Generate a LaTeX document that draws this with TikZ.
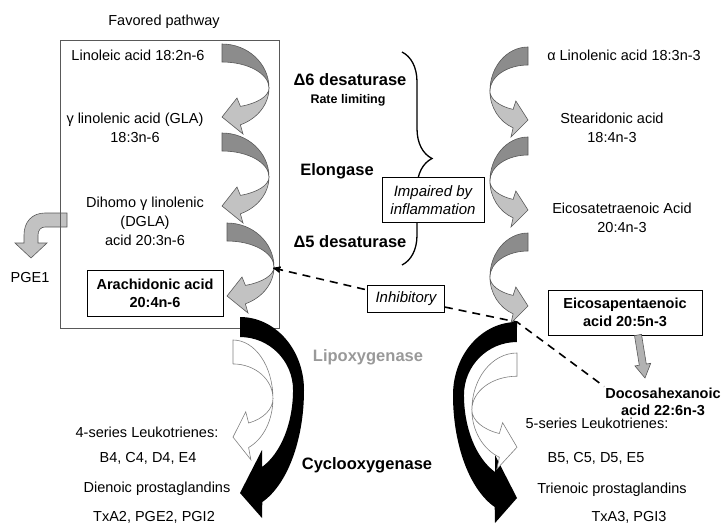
\documentclass[tikz,border=0pt]{standalone}
\usepackage{fontspec}
\setmainfont{Liberation Sans}
\usetikzlibrary{decorations.pathreplacing,shapes,arrows,positioning}

\definecolor{ribdark}{gray}{0.55}
\definecolor{riblight}{gray}{0.76}
\definecolor{ribline}{gray}{0.35}

\tikzset{
  % twisted curved arrow, flat end at the origin, head back under it
  pics/twist/.style n args={2}{code={
    \filldraw[fill=#1] (0,0) arc[start angle=-90,end angle=0,x radius=47,y radius=44]
      arc[start angle=0,end angle=-90,x radius=47,y radius=26] -- cycle;
    \filldraw[fill=#2] (47,44) arc[start angle=0,end angle=67,x radius=47,y radius=40]
      -- (21,90) -- (0,73) -- (15,54) -- (18.4,62.4)
      arc[start angle=67,end angle=0,x radius=47,y radius=20] -- cycle;
  }},
  % big black bend
  pics/bigbend/.style={code={
    \fill (0,0) arc[start angle=-90,end angle=0,x radius=64,y radius=73]
      arc[start angle=0,end angle=69.6,x radius=64,y radius=119.5]
      -- (22,201) -- (0,176) -- (22,133) -- (22,150)
      arc[start angle=65.5,end angle=0,x radius=53,y radius=84.6]
      arc[start angle=0,end angle=-90,x radius=53,y radius=53] -- cycle;
  }}
}

\begin{document}
\begin{tikzpicture}[x=1pt, y=-1pt, >=stealth',
  txt/.style={font=\fontsize{14.5}{19}\selectfont, align=center, inner sep=1pt},
  enz/.style={font=\fontsize{16.5}{19}\selectfont\bfseries, inner sep=1pt},
  acidbox/.style={draw, line width=0.8pt, fill=white, align=center,
    font=\fontsize{14.5}{18}\selectfont\bfseries},
  notebox/.style={draw, line width=0.8pt, fill=white, align=center,
    font=\fontsize{15}{18}\selectfont\itshape},
  ribbon/.style={draw=ribline, line width=0.6pt},
  inhib/.style={dash pattern=on 8pt off 6pt, line width=1.6pt}]

\useasboundingbox (0,0) rectangle (723,523);

% side arrow to PGE1
\filldraw[ribbon, fill=riblight] (67,213) -- (45,213) .. controls (32,213) and (24,222) .. (24,235)
  -- (24,243) -- (15,243) -- (31,258) -- (47,243) -- (38,243) -- (38,235)
  .. controls (38,230) and (41,227) .. (45,227) -- (67,227) -- cycle;

\node[draw=gray!70!black, line width=0.9pt, minimum width=219, minimum height=288] (favbox) at (169.5,184) {};
\node[txt] (fav) at (164,22) {Favored pathway};

% omega-6 steps
\pic[ribbon] at (222,44) {twist={ribdark}{riblight}};
\pic[ribbon] at (222,133) {twist={ribdark}{riblight}};
\pic[ribbon] at (227,223) {twist={ribdark}{riblight}};
% omega-3 steps
\pic[ribbon, xscale=-0.81] at (528,47) {twist={ribdark}{riblight}};
\pic[ribbon, xscale=-0.81] at (528,137) {twist={ribdark}{riblight}};
\pic[ribbon, xscale=-0.81] at (528,233) {twist={ribdark}{riblight}};

% cyclooxygenase / lipoxygenase
\pic at (240,317) {bigbend};
\pic[xscale=-1] at (517,322) {bigbend};
\pic[draw=gray, line width=0.6pt, xscale=0.85, yscale=1.33] at (233,340) {twist={white}{white}};
\pic[draw=gray, line width=0.6pt, xscale=-0.96, yscale=1.29] at (517,353) {twist={white}{white}};

% left column
\node[txt] (la) at (138,55) {Linoleic acid 18:2n-6};
\node[txt] (gla) at (135,127.5) {γ linolenic acid (GLA)\\18:3n-6};
\node[txt] (dgla) at (145,221.5) {Dihomo γ linolenic\\(DGLA)\\acid 20:3n-6};
\node[acidbox, minimum width=136, minimum height=46] (aa) at (155,293) {Arachidonic acid\\20:4n-6};
\node[txt] (pge) at (30,278) {PGE1};

% right column
\node[txt] (ala) at (624,55) {α Linolenic acid 18:3n-3};
\node[txt] (sda) at (612,127.5) {Stearidonic acid\\18:4n-3};
\node[txt] (eta) at (622,218) {Eicosatetraenoic Acid\\20:4n-3};
\node[acidbox, minimum width=154, minimum height=45] (epa) at (625,312.5) {Eicosapentaenoic\\acid 20:5n-3};
\node[txt, font=\fontsize{14.5}{17}\selectfont\bfseries] (dha) at (663,401.5) {Docosahexanoic\\acid 22:6n-3};

% enzymes
\node[enz] (d6) at (350,80) {Δ6 desaturase};
\node[font=\fontsize{12.5}{14}\selectfont\bfseries] (rate) at (348,100) {Rate limiting};
\node[enz] (elo) at (337,171) {Elongase};
\node[enz] (d5) at (350,242) {Δ5 desaturase};
\node[enz, text=gray!80] (lipo) at (368,357) {Lipoxygenase};
\node[enz] (cyclo) at (367,465) {Cyclooxygenase};

\draw[decorate, decoration={brace, amplitude=30pt}, line width=1.3pt] (402,52) -- (402,265);
\node[notebox, minimum width=102, minimum height=45] (imp) at (433,200) {Impaired by\\inflammation};

% products
\node[txt] (lt4) at (147,432) {4-series Leukotrienes:};
\node[txt] (b4) at (148,458) {B4, C4, D4, E4};
\node[txt] (die) at (157,489) {Dienoic prostaglandins};
\node[txt] (tx2) at (154,517) {TxA2, PGE2, PGI2};
\node[txt] (lt5) at (597,423) {5-series Leukotrienes:};
\node[txt] (b5) at (596,458) {B5, C5, D5, E5};
\node[txt] (tri) at (612,490) {Trienoic prostaglandins};
\node[txt] (tx3) at (629,517) {TxA3, PGI3};

% inhibition
\coordinate (d5tip) at (273,268);
\coordinate (bend) at (517,322);
\node[notebox, minimum width=77, minimum height=27] (inh) at (406,299) {Inhibitory};
\draw[inhib, <-] (d5tip) -- (inh);
\draw[inhib] (inh) -- (bend) -- (dha.north west);

% EPA to DHA
\filldraw[ribbon, fill=gray!60] (634.5,335.6) -- (641.5,334.4) -- (646.3,364.0) -- (650.7,363.3)
  -- (645,378) -- (634.9,365.9) -- (639.3,365.2) -- cycle;
\end{tikzpicture}
\end{document}
